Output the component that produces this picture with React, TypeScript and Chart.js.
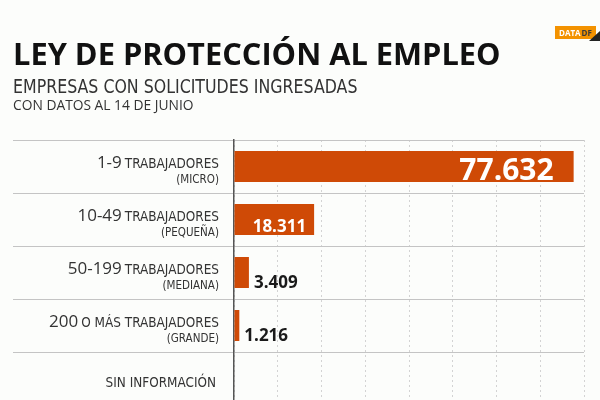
import React, { useEffect, useRef } from 'react';
import { Chart, registerables } from 'chart.js';

Chart.register(...registerables);

const TITLE = 'LEY DE PROTECCIÓN AL EMPLEO';
const SUBTITLE = 'EMPRESAS CON SOLICITUDES INGRESADAS';
const NOTE = 'CON DATOS AL 14 DE JUNIO';
const LOGO_A = 'DATA';
const LOGO_B = 'DF';

const categoryNumbers = ['1-9', '10-49', '50-199', '200', ''];
const categoryWords = ['TRABAJADORES', 'TRABAJADORES', 'TRABAJADORES', 'O MÁS TRABAJADORES', 'SIN INFORMACIÓN'];
const categorySizes = ['(MICRO)', '(PEQUEÑA)', '(MEDIANA)', '(GRANDE)', ''];
const empresas: (number | null)[] = [77632, 18311, 3409, 1216, null];
const xMin = 0;
const xMax = 80000;
const xStep = 10000;

const NUM_FONT = "'Open Sans', 'Noto Sans', sans-serif";
const NARROW_FONT = "'DejaVu Sans Condensed', 'Liberation Sans Narrow', sans-serif";

const fmt = (n: number) => String(n).replace(/\B(?=(\d{3})+(?!\d))/g, '.');

function narrowText(ctx: any, text: string, x: number, y: number, sx: number) {
  ctx.save();
  ctx.translate(x, y);
  ctx.scale(sx, 1);
  ctx.fillText(text, 0, 0);
  ctx.restore();
}

const headerPlugin = {
  id: 'headerExtras',
  afterDraw(chart: any) {
    const ctx = chart.ctx;
    ctx.save();
    ctx.textBaseline = 'alphabetic';
    ctx.textAlign = 'left';
    ctx.fillStyle = '#333333';
    ctx.font = `19px ${NARROW_FONT}`;
    narrowText(ctx, SUBTITLE, 13, 93, 0.925);
    ctx.font = `13.8px ${NUM_FONT}`;
    ctx.fillText(NOTE, 13, 110);
    // logo
    ctx.fillStyle = '#f39200';
    ctx.fillRect(555, 26, 41, 13);
    ctx.fillStyle = '#222222';
    ctx.beginPath();
    ctx.moveTo(589, 41);
    ctx.lineTo(600, 41);
    ctx.lineTo(600, 31);
    ctx.closePath();
    ctx.fill();
    ctx.font = `bold 8px ${NUM_FONT}`;
    ctx.fillStyle = '#ffffff';
    ctx.fillText(LOGO_A, 559, 36);
    const w = ctx.measureText(LOGO_A).width;
    ctx.fillStyle = '#3a3a3a';
    ctx.fillText(LOGO_B, 559 + w + 1, 36);
    ctx.restore();
  },
};

const categoryLabelPlugin = {
  id: 'categoryLabels',
  afterDraw(chart: any) {
    const ctx = chart.ctx;
    const yScale = chart.scales.y;
    const right = yScale.right - 15;
    ctx.save();
    ctx.textBaseline = 'alphabetic';
    ctx.fillStyle = '#333333';
    ctx.textAlign = 'right';
    categoryWords.forEach((word, i) => {
      const cy = yScale.getPixelForValue(i);
      const num = categoryNumbers[i];
      const sub = categorySizes[i];
      if (!sub) {
        ctx.font = `14.5px ${NARROW_FONT}`;
        narrowText(ctx, word, right - 3, cy + 8, 0.925);
        return;
      }
      ctx.font = `14px ${NARROW_FONT}`;
      const sxWord = 0.96;
      narrowText(ctx, word, right, cy + 1, sxWord);
      const ww = ctx.measureText(word).width * sxWord;
      if (num) {
        ctx.font = `17px ${NUM_FONT}`;
        ctx.fillText(num, right - ww - 3, cy + 1);
      }
      ctx.font = `12.8px ${NARROW_FONT}`;
      narrowText(ctx, sub, right, cy + 16, 0.9);
    });
    ctx.restore();
  },
};

const valueLabelPlugin = {
  id: 'valueLabels',
  afterDatasetsDraw(chart: any) {
    const ctx = chart.ctx;
    const meta = chart.getDatasetMeta(0);
    ctx.save();
    ctx.textBaseline = 'alphabetic';
    meta.data.forEach((bar: any, i: number) => {
      const v = empresas[i];
      if (v == null) return;
      const big = v >= 50000;
      const inside = v >= 10000;
      ctx.font = `bold ${big ? 30 : 17}px ${NUM_FONT}`;
      if (inside) {
        ctx.textAlign = 'right';
        ctx.fillStyle = '#ffffff';
        ctx.fillText(fmt(v), bar.x - (big ? 20 : 8), bar.y + (big ? 13 : 12));
      } else {
        ctx.textAlign = 'left';
        ctx.fillStyle = '#1a1a1a';
        ctx.fillText(fmt(v), bar.x + 5, bar.y + 15);
      }
    });
    ctx.restore();
  },
};

export default function App() {
  const ref = useRef<HTMLCanvasElement | null>(null);
  useEffect(() => {
    document.body.style.margin = '0';
    const canvas = ref.current;
    if (!canvas) return;
    const chart = new Chart(canvas, {
      type: 'bar',
      data: {
        labels: categoryWords.map((w, i) => [`${categoryNumbers[i]} ${w}`.trim(), categorySizes[i]]),
        datasets: [
          {
            label: 'Empresas',
            data: empresas,
            backgroundColor: '#cf4a06',
            borderWidth: 0,
            barPercentage: 0.585,
            categoryPercentage: 1,
          },
        ],
      },
      options: {
        indexAxis: 'y',
        responsive: false,
        animation: false,
        layout: { padding: { left: 13, right: 16, top: 0, bottom: 0 } },
        plugins: {
          legend: { display: false },
          tooltip: { enabled: false },
          title: {
            display: true,
            text: TITLE,
            align: 'start',
            color: '#111111',
            font: { family: NUM_FONT, size: 30.8, weight: 'bold', lineHeight: 1.2 },
            padding: { top: 37.5, bottom: 65.54 },
          },
        },
        scales: {
          x: {
            type: 'linear',
            min: xMin,
            max: xMax,
            ticks: { display: false, stepSize: xStep },
            grid: { color: '#d3d3d3', lineWidth: 1, drawTicks: false },
            border: { display: false, dash: [2, 3] },
          },
          y: {
            type: 'category',
            ticks: { display: false },
            grid: { offset: true, color: '#c4c4c4', lineWidth: 1, drawTicks: true, tickLength: 221, tickColor: '#c4c4c4' },
            border: { display: true, color: '#555555', width: 1.5 },
            afterFit(scale: any) {
              scale.width = 221;
            },
          },
        },
      },
      plugins: [headerPlugin, categoryLabelPlugin, valueLabelPlugin],
    });
    return () => chart.destroy();
  }, []);

  return (
    <div
      style={{
        position: 'fixed',
        left: 0,
        top: 0,
        width: 600,
        height: 400,
        overflow: 'hidden',
        background: '#fcfdfb',
      }}
    >
      <canvas ref={ref} width={600} height={405} style={{ display: 'block' }} />
    </div>
  );
}
